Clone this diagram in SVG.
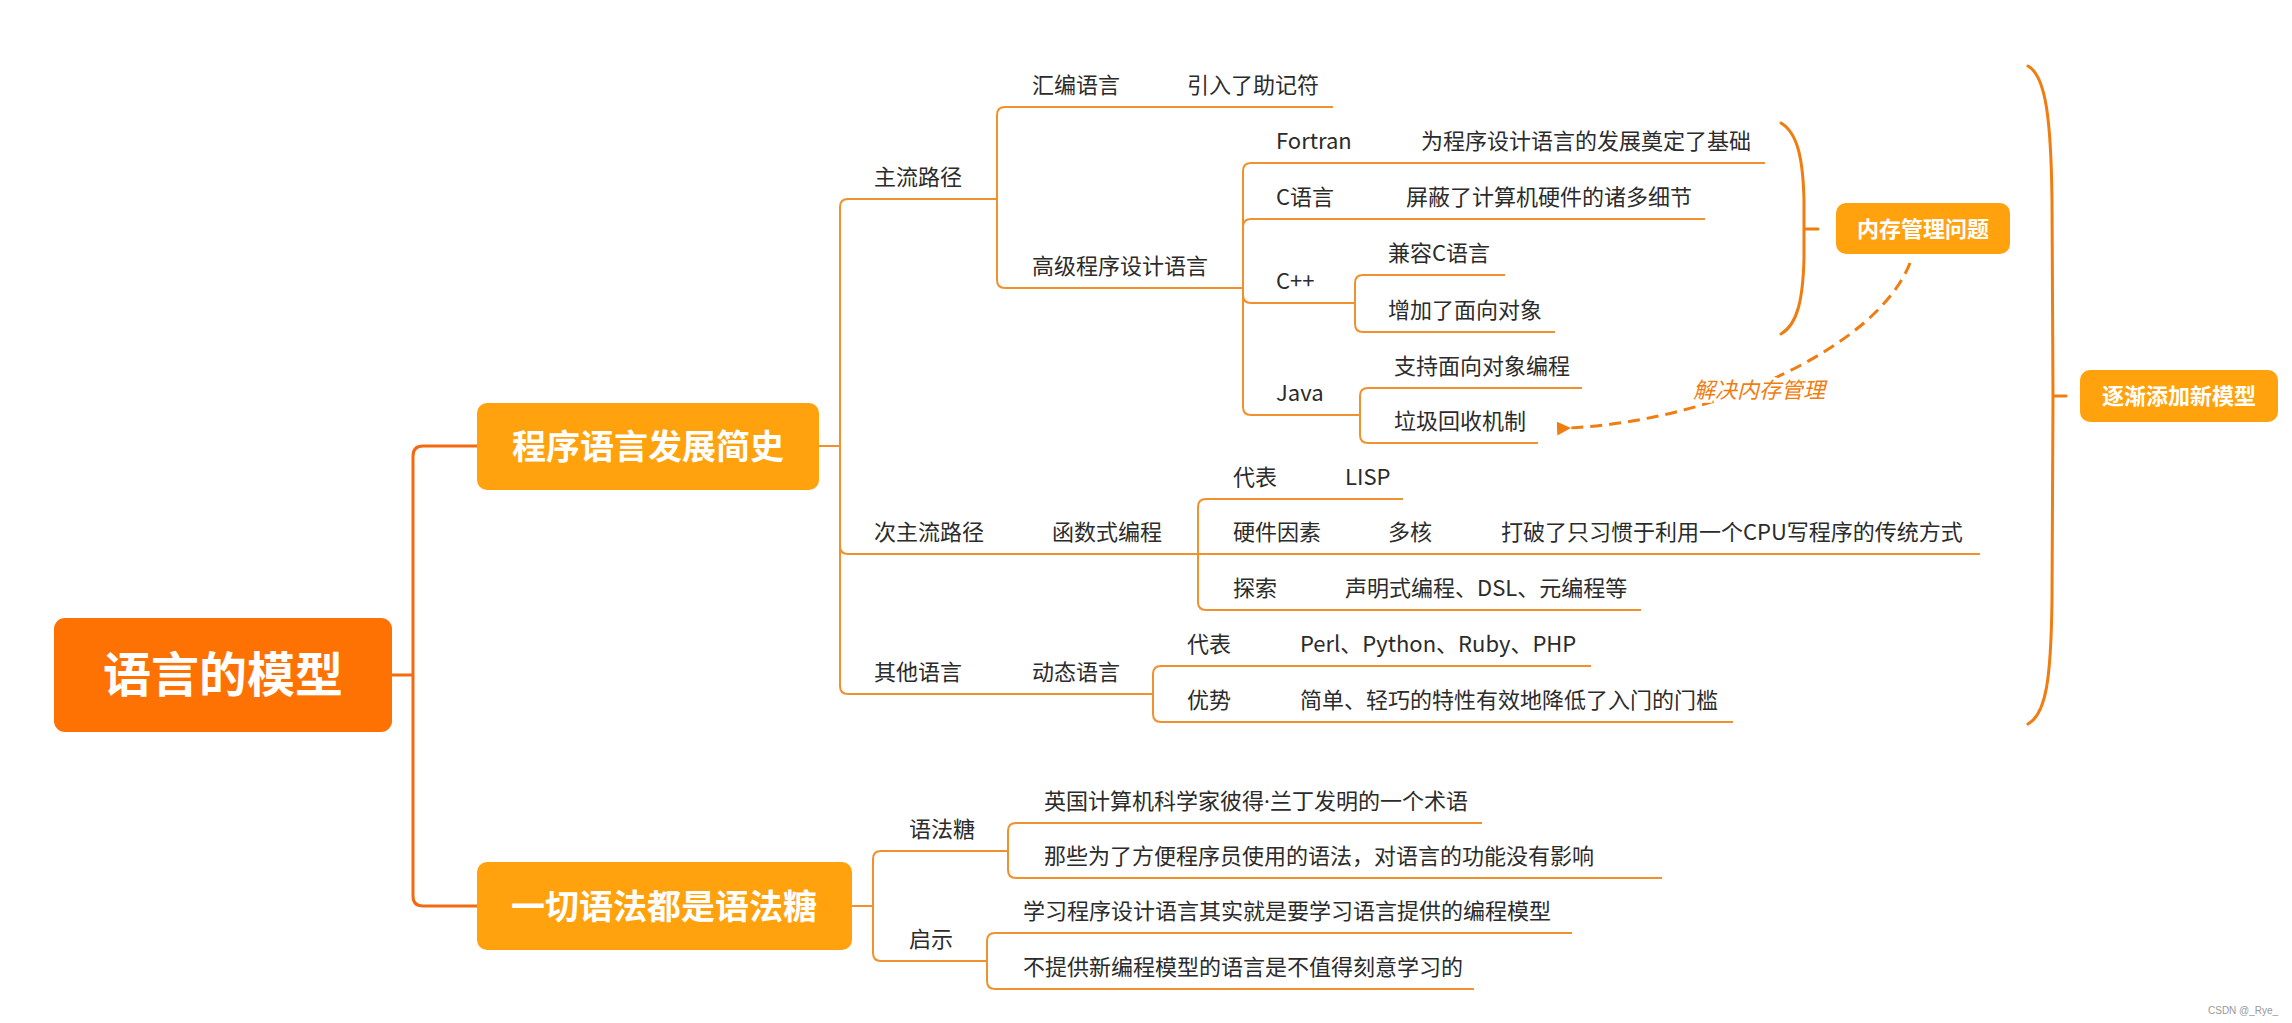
<svg xmlns="http://www.w3.org/2000/svg" width="2292" height="1023" viewBox="0 0 2292 1023">
<style>
.t{font-family:"Noto Sans CJK SC","Noto Sans",sans-serif;font-size:22px;fill:#2b2b2b}
.bt{font-family:"Noto Sans CJK SC","Noto Sans",sans-serif;font-weight:bold;fill:#ffffff;text-anchor:middle}
.ln{fill:none;stroke:#F0912E;stroke-width:2}
.main{fill:none;stroke:#F26B10;stroke-width:3}
.br{fill:none;stroke:#F07D10;stroke-width:3;stroke-linecap:round}
.box1{fill:#FFA20D}
</style>
<defs>
<marker id="arr" viewBox="0 0 14 14" refX="2" refY="7" markerWidth="14" markerHeight="14" markerUnits="userSpaceOnUse" orient="auto">
<path d="M0 7 L14 0 L14 14 Z" fill="#F07D10"/>
</marker>
</defs>
<rect width="2292" height="1023" fill="#ffffff"/>
<g id="connectors">
<path class="main" d="M392 675 L413 675 M413 675 L413 456 Q413 446 423 446 L477 446 M413 675 L413 896 Q413 906 423 906 L477 906"/>
<path class="ln" d="M819 446 L840 446"/>
<path class="ln" d="M840 446 L840 207 Q840 199 848 199 L997 199"/>
<path class="ln" d="M840 446 L840 546 Q840 554 848 554 L1198 554"/>
<path class="ln" d="M840 446 L840 686 Q840 694 848 694 L1153 694"/>
<path class="ln" d="M997 199 L997 115 Q997 107 1005 107 L1333 107"/>
<path class="ln" d="M997 199 L997 280 Q997 288 1005 288 L1243 288"/>
<path class="ln" d="M1243 288 L1243 171 Q1243 163 1251 163 L1765 163"/>
<path class="ln" d="M1243 288 L1243 227 Q1243 219 1251 219 L1705 219"/>
<path class="ln" d="M1243 288 L1243 295 Q1243 303 1251 303 L1355 303"/>
<path class="ln" d="M1243 288 L1243 407 Q1243 415 1251 415 L1360 415"/>
<path class="ln" d="M1355 303 L1355 283 Q1355 275 1363 275 L1505 275"/>
<path class="ln" d="M1355 303 L1355 324 Q1355 332 1363 332 L1555 332"/>
<path class="ln" d="M1360 415 L1360 396 Q1360 388 1368 388 L1582 388"/>
<path class="ln" d="M1360 415 L1360 435 Q1360 443 1368 443 L1538 443"/>
<path class="ln" d="M1198 554 L1198 507 Q1198 499 1206 499 L1403 499"/>
<path class="ln" d="M1198 554 L1980 554"/>
<path class="ln" d="M1198 554 L1198 602 Q1198 610 1206 610 L1641 610"/>
<path class="ln" d="M1153 694 L1153 674 Q1153 666 1161 666 L1591 666"/>
<path class="ln" d="M1153 694 L1153 714 Q1153 722 1161 722 L1733 722"/>
<path class="ln" d="M852 906 L873 906"/>
<path class="ln" d="M873 906 L873 859 Q873 851 881 851 L1008 851"/>
<path class="ln" d="M873 906 L873 953 Q873 961 881 961 L987 961"/>
<path class="ln" d="M1008 851 L1008 831 Q1008 823 1016 823 L1482 823"/>
<path class="ln" d="M1008 851 L1008 870 Q1008 878 1016 878 L1662 878"/>
<path class="ln" d="M987 961 L987 941 Q987 933 995 933 L1572 933"/>
<path class="ln" d="M987 961 L987 981 Q987 989 995 989 L1474 989"/>
<path class="br" d="M1781 123 C1798 133 1803 160 1804 200 L1804 258 C1803 298 1798 324 1781 334 M1804 229 L1818 229"/>
<path class="br" d="M2028 66 C2046 76 2051 120 2052 200 L2053 396 L2052 600 C2051 680 2046 714 2028 724 M2053 396 L2066 396"/>
<path fill="none" stroke="#F07D10" stroke-width="3" stroke-dasharray="12 7" d="M1910 263 C1878 345 1722 420 1569 428" marker-end="url(#arr)"/>
<text x="1759" y="398" text-anchor="middle" font-family="'Noto Sans CJK SC','Noto Sans',sans-serif" font-size="22" font-style="italic" fill="#F07D10" stroke="#ffffff" stroke-width="6" paint-order="stroke">解决内存管理</text>
</g>
<g id="root">
<rect x="54" y="618" width="338" height="114" rx="11" fill="#FD7203"/>
<text class="bt" x="223" y="692" font-size="48">语言的模型</text>
</g>
<g id="n-history">
<rect class="box1" x="477" y="403" width="342" height="87" rx="10"/>
<text class="bt" x="648" y="459" font-size="34">程序语言发展简史</text>
</g>
<g id="n-sugar">
<rect class="box1" x="477" y="862" width="375" height="88" rx="10"/>
<text class="bt" x="664" y="919" font-size="34">一切语法都是语法糖</text>
</g>
<g id="n-memory">
<rect class="box1" x="1836" y="203" width="174" height="51" rx="10"/>
<text class="bt" x="1923" y="237" font-size="22">内存管理问题</text>
</g>
<g id="n-models">
<rect class="box1" x="2080" y="370" width="198" height="52" rx="10"/>
<text class="bt" x="2179" y="404" font-size="22">逐渐添加新模型</text>
</g>
<g id="n-main"><text class="t" x="874" y="185">主流路径</text></g>
<g id="n-asm"><text class="t" x="1032" y="93">汇编语言</text><text class="t" x="1187" y="93">引入了助记符</text></g>
<g id="n-high"><text class="t" x="1032" y="274">高级程序设计语言</text></g>
<g id="n-fortran"><text class="t" x="1276" y="149">Fortran</text><text class="t" x="1421" y="149">为程序设计语言的发展奠定了基础</text></g>
<g id="n-c"><text class="t" x="1276" y="205">C语言</text><text class="t" x="1406" y="205">屏蔽了计算机硬件的诸多细节</text></g>
<g id="n-cpp"><text class="t" x="1276" y="289">C++</text></g>
<g id="n-cpp1"><text class="t" x="1388" y="261">兼容C语言</text></g>
<g id="n-cpp2"><text class="t" x="1388" y="318">增加了面向对象</text></g>
<g id="n-java"><text class="t" x="1276" y="401">Java</text></g>
<g id="n-java1"><text class="t" x="1394" y="374">支持面向对象编程</text></g>
<g id="n-java2"><text class="t" x="1394" y="429">垃圾回收机制</text></g>
<g id="n-sub"><text class="t" x="874" y="540">次主流路径</text><text class="t" x="1052" y="540">函数式编程</text></g>
<g id="n-lisp"><text class="t" x="1233" y="485">代表</text><text class="t" x="1345" y="485">LISP</text></g>
<g id="n-hw"><text class="t" x="1233" y="540">硬件因素</text><text class="t" x="1388" y="540">多核</text><text class="t" x="1501" y="540">打破了只习惯于利用一个CPU写程序的传统方式</text></g>
<g id="n-explore"><text class="t" x="1233" y="596">探索</text><text class="t" x="1345" y="596">声明式编程、DSL、元编程等</text></g>
<g id="n-other"><text class="t" x="874" y="680">其他语言</text><text class="t" x="1032" y="680">动态语言</text></g>
<g id="n-rep"><text class="t" x="1187" y="652">代表</text><text class="t" x="1300" y="652">Perl、Python、Ruby、PHP</text></g>
<g id="n-adv"><text class="t" x="1187" y="708">优势</text><text class="t" x="1300" y="708">简单、轻巧的特性有效地降低了入门的门槛</text></g>
<g id="n-syn"><text class="t" x="909" y="837">语法糖</text></g>
<g id="n-syn1"><text class="t" x="1044" y="809">英国计算机科学家彼得<tspan font-family="'Noto Sans',sans-serif">·</tspan>兰丁发明的一个术语</text></g>
<g id="n-syn2"><text class="t" x="1044" y="864">那些为了方便程序员使用的语法，对语言的功能没有影响</text></g>
<g id="n-ins"><text class="t" x="909" y="947">启示</text></g>
<g id="n-ins1"><text class="t" x="1023" y="919">学习程序设计语言其实就是要学习语言提供的编程模型</text></g>
<g id="n-ins2"><text class="t" x="1023" y="975">不提供新编程模型的语言是不值得刻意学习的</text></g>
<text x="2208" y="1014" font-family="'Liberation Sans',sans-serif" font-size="10" fill="#999999">CSDN @_Rye_</text>
</svg>
